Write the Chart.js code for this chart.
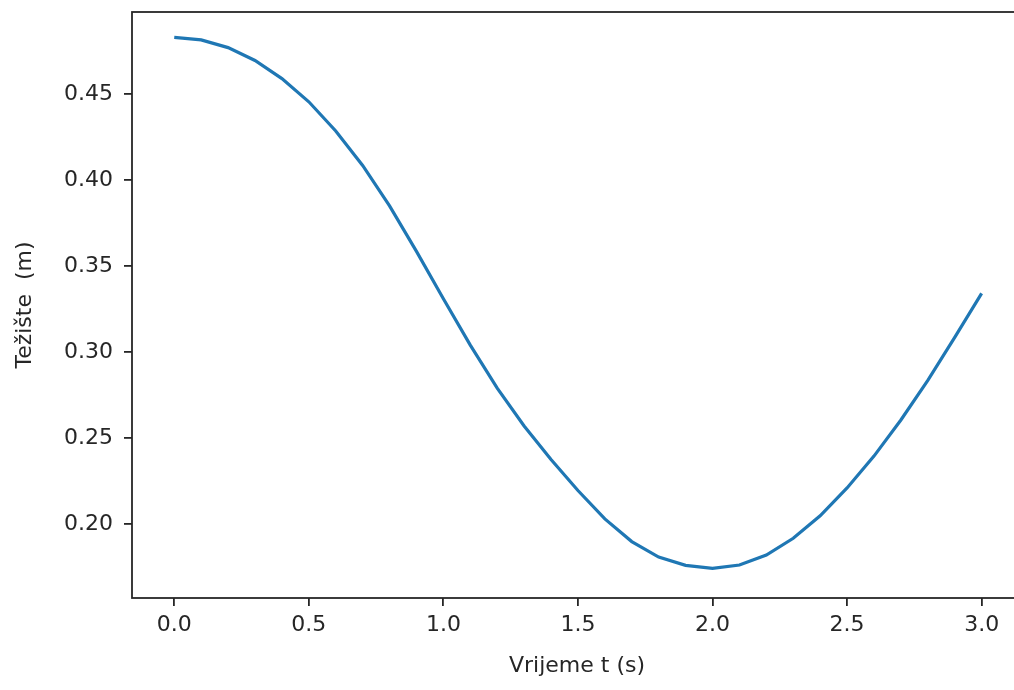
<!DOCTYPE html>
<html>
<head>
<meta charset="utf-8">
<script src="https://cdn.jsdelivr.net/npm/chart.js@4/dist/chart.umd.min.js"></script>
<style>
  html, body { margin: 0; padding: 0; background: #ffffff; overflow: hidden; }
  #wrap { width: 1024px; height: 690px; }
</style>
</head>
<body>
<div id="wrap"><canvas id="c" width="1024" height="690"></canvas></div>
<script>
// Time values (s)
const tValues = [0.0, 0.1, 0.2, 0.3, 0.4, 0.5, 0.6, 0.7, 0.8, 0.9, 1.0,
                 1.1, 1.2, 1.3, 1.4, 1.5, 1.6, 1.7, 1.8, 1.9, 2.0,
                 2.1, 2.2, 2.3, 2.4, 2.5, 2.6, 2.7, 2.8, 2.9, 3.0];
// Centre of gravity (m)
const yValues = [0.4830, 0.4815, 0.4770, 0.4695, 0.4590, 0.4455, 0.4285, 0.4085, 0.3850, 0.3585, 0.3310,
                 0.3040, 0.2790, 0.2570, 0.2375, 0.2195, 0.2030, 0.1898, 0.1808, 0.1760, 0.1742,
                 0.1762, 0.1820, 0.1917, 0.2048, 0.2210, 0.2395, 0.2605, 0.2835, 0.3085, 0.3341];
const xTicks = [0.0, 0.5, 1.0, 1.5, 2.0, 2.5, 3.0];
const xTickLabels = ['0.0', '0.5', '1.0', '1.5', '2.0', '2.5', '3.0'];
const yTicks = [0.20, 0.25, 0.30, 0.35, 0.40, 0.45];
const yTickLabels = ['0.20', '0.25', '0.30', '0.35', '0.40', '0.45'];
const xTitle = 'Vrijeme t (s)';
const yTitle = 'Težište  (m)';

const FONT = 'DejaVu Sans';
const INK = '#262626';
const SPINE = '#262626';

const frame = {
  id: 'frame',
  afterDraw(chart) {
    const a = chart.chartArea, ctx = chart.ctx;
    ctx.save();
    ctx.strokeStyle = SPINE;
    ctx.lineWidth = 1.8;
    ctx.strokeRect(a.left, a.top, a.right - a.left, a.bottom - a.top);
    ctx.restore();
  }
};

new Chart(document.getElementById('c'), {
  type: 'line',
  data: {
    datasets: [{
      data: tValues.map((t, i) => ({ x: t, y: yValues[i] })),
      borderColor: '#1f77b4',
      borderWidth: 3.2,
      pointRadius: 0,
      tension: 0,
      fill: false
    }]
  },
  options: {
    responsive: false,
    animation: false,
    devicePixelRatio: 1,
    layout: { padding: { top: 12, right: 2, left: 0, bottom: 0 } },
    plugins: { legend: { display: false }, tooltip: { enabled: false } },
    scales: {
      x: {
        type: 'linear',
        min: -0.157,
        max: 3.15,
        afterBuildTicks: s => { s.ticks = xTicks.map(v => ({ value: v })); },
        afterFit: s => { s.height = 92; s.paddingLeft = 0; s.paddingRight = 0; },
        ticks: {
          autoSkip: false,
          maxRotation: 0,
          padding: 6,
          color: INK,
          font: { family: FONT, size: 22 },
          callback: (v) => xTickLabels[xTicks.findIndex(t => Math.abs(t - v) < 1e-9)]
        },
        grid: { drawOnChartArea: false, drawTicks: true, tickLength: 8, color: SPINE, lineWidth: 1.8 },
        border: { display: false },
        title: {
          display: true, text: xTitle, color: INK,
          font: { family: FONT, size: 22 },
          padding: { top: 0, bottom: 11 }
        }
      },
      y: {
        type: 'linear',
        min: 0.157,
        max: 0.4977,
        afterBuildTicks: s => { s.ticks = yTicks.map(v => ({ value: v })); },
        afterFit: s => { s.width = 132; s.paddingTop = 0; s.paddingBottom = 0; },
        ticks: {
          autoSkip: false,
          padding: 11,
          color: INK,
          font: { family: FONT, size: 22 },
          callback: (v) => yTickLabels[yTicks.findIndex(t => Math.abs(t - v) < 1e-9)]
        },
        grid: { drawOnChartArea: false, drawTicks: true, tickLength: 8, color: SPINE, lineWidth: 1.8 },
        border: { display: false },
        title: {
          display: true, text: yTitle, color: INK,
          font: { family: FONT, size: 22 },
          padding: { top: 12, bottom: 0 }
        }
      }
    }
  },
  plugins: [frame]
});
</script>
</body>
</html>
